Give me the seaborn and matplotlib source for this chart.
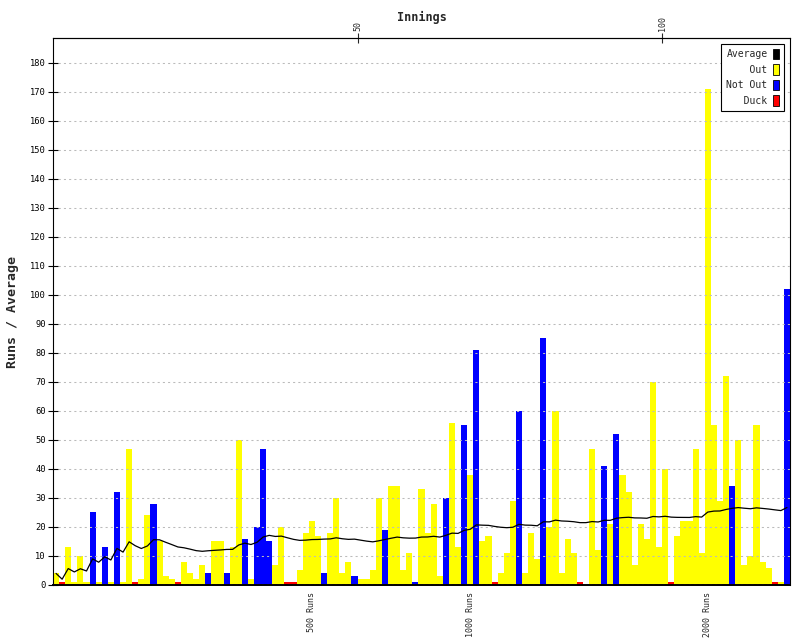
import numpy as np
import pandas as pd
import seaborn as sns
import matplotlib.pyplot as plt
from matplotlib.patches import Patch


# runs scored in each innings (1..121)
runs = [4, 0, 13, 1, 10, 1, 25, 1, 13, 1,
        32, 1, 47, 0, 2, 24, 28, 15, 3, 2,
        0, 8, 4, 2, 7, 4, 15, 15, 4, 13,
        50, 16, 2, 20, 47, 15, 7, 20, 0, 0,
        5, 18, 22, 17, 4, 18, 30, 4, 8, 3,
        2, 2, 5, 30, 19, 34, 34, 5, 11, 1,
        33, 18, 28, 3, 30, 56, 13, 55, 38, 81,
        15, 17, 0, 4, 11, 29, 60, 4, 18, 9,
        85, 20, 60, 4, 16, 11, 0, 0, 47, 12,
        41, 21, 52, 38, 32, 7, 21, 16, 70, 13,
        40, 0, 17, 22, 22, 47, 11, 171, 55, 29,
        72, 34, 50, 7, 10, 55, 8, 6, 0, 1,
        102]

# innings in which the batsman was not out
not_out = [7, 9, 11, 17, 26, 29, 32, 34, 35, 36, 45, 50, 55, 60,
           65, 68, 70, 77, 81, 88, 91, 93, 112, 121]

milestones = [500, 1000, 2000]
innings_ticks = [50, 100]
y_ticks = list(range(0, 190, 10))

colors = {"Out": "#ffff00", "Not Out": "#0000ff", "Duck": "#ff0000"}
DUCK_H = 1.0   # ducks are drawn as a thin red strip


# ---- build the table ----
innings = np.arange(1, len(runs) + 1)
kind = []
for i, r in zip(innings, runs):
    if i in not_out:
        kind.append("Not Out")
    elif r == 0:
        kind.append("Duck")
    else:
        kind.append("Out")

df = pd.DataFrame({"inning": innings, "runs": runs, "kind": kind})
df["pos"] = df["inning"] - 0.5
df["height"] = np.where(df["kind"] == "Duck", DUCK_H, df["runs"])
outs = (df["kind"] != "Not Out").astype(int)
df["average"] = df["runs"].cumsum() / outs.cumsum()
cum = df["runs"].cumsum()
milestone_pos = [df["pos"][cum >= m].iloc[0] for m in milestones]


# ---- plot ----
sns.set_style("white")
plt.rcParams["font.family"] = ["DejaVu Sans Mono"]

fig = plt.figure(figsize=(8, 6.4), dpi=100)
ax = fig.add_axes([53 / 800, 55 / 640, 737 / 800, 547 / 640])

sns.barplot(data=df, x="pos", y="height", hue="kind", palette=colors,
            saturation=1, native_scale=True, dodge=False, width=1,
            linewidth=0, errorbar=None, legend=False, ax=ax, zorder=1)
sns.lineplot(data=df, x="pos", y="average", color="black", linewidth=0.9,
             estimator=None, ax=ax, zorder=3)

ax.set_xlim(0, len(runs))
ax.set_ylim(0, 188.6)

ax.set_axisbelow(False)
ax.set_yticks(y_ticks)
ax.set_yticklabels([str(v) for v in y_ticks])
ax.yaxis.grid(True, color="#bbbbbb", linestyle=(0, (2, 3)), linewidth=0.75)
ax.xaxis.grid(False)
ax.tick_params(axis="y", direction="inout", length=6.5, width=0.8,
               labelsize=6.3, pad=2, left=True, colors="black")

ax.set_xticks(milestone_pos)
ax.set_xticklabels([f"{m} Runs" for m in milestones], rotation=90,
                   va="top", ha="center")
ax.tick_params(axis="x", length=0, labelsize=6, pad=5)
ax.set_xlabel("")
ax.set_ylabel("Runs / Average", fontsize=9.5, fontweight="bold", labelpad=8)

for side in ["left", "top", "right"]:
    ax.spines[side].set_visible(True)
    ax.spines[side].set_color("black")
    ax.spines[side].set_linewidth(0.8)
ax.spines["bottom"].set_color("black")
ax.spines["bottom"].set_linewidth(1.4)

top = ax.secondary_xaxis("top")
top.set_xticks(innings_ticks)
top.set_xticklabels([str(v) for v in innings_ticks], rotation=90, va="bottom")
top.tick_params(direction="inout", length=6.5, width=0.8, labelsize=6, pad=2)
top.set_xlabel("Innings", fontsize=8.5, fontweight="bold", labelpad=-3.5)
top.spines["top"].set_linewidth(0.8)

handles = [Patch(facecolor="black", edgecolor="black", linewidth=0.6),
           Patch(facecolor=colors["Out"], edgecolor="black", linewidth=0.6),
           Patch(facecolor=colors["Not Out"], edgecolor="black", linewidth=0.6),
           Patch(facecolor=colors["Duck"], edgecolor="black", linewidth=0.6)]
labels = ["Average", "    Out", "Not Out", "   Duck"]
leg = ax.legend(handles, labels, loc="upper right",
                bbox_to_anchor=(731 / 737, 541 / 547), borderaxespad=0,
                markerfirst=False, fontsize=7, handlelength=0.6,
                handleheight=1.3, handletextpad=0.6, labelspacing=0.5,
                borderpad=0.5, fancybox=False, framealpha=1)
leg.get_frame().set_edgecolor("black")
leg.get_frame().set_linewidth(0.8)
leg.set_zorder(5)

fig.savefig("out.png", dpi=100)
